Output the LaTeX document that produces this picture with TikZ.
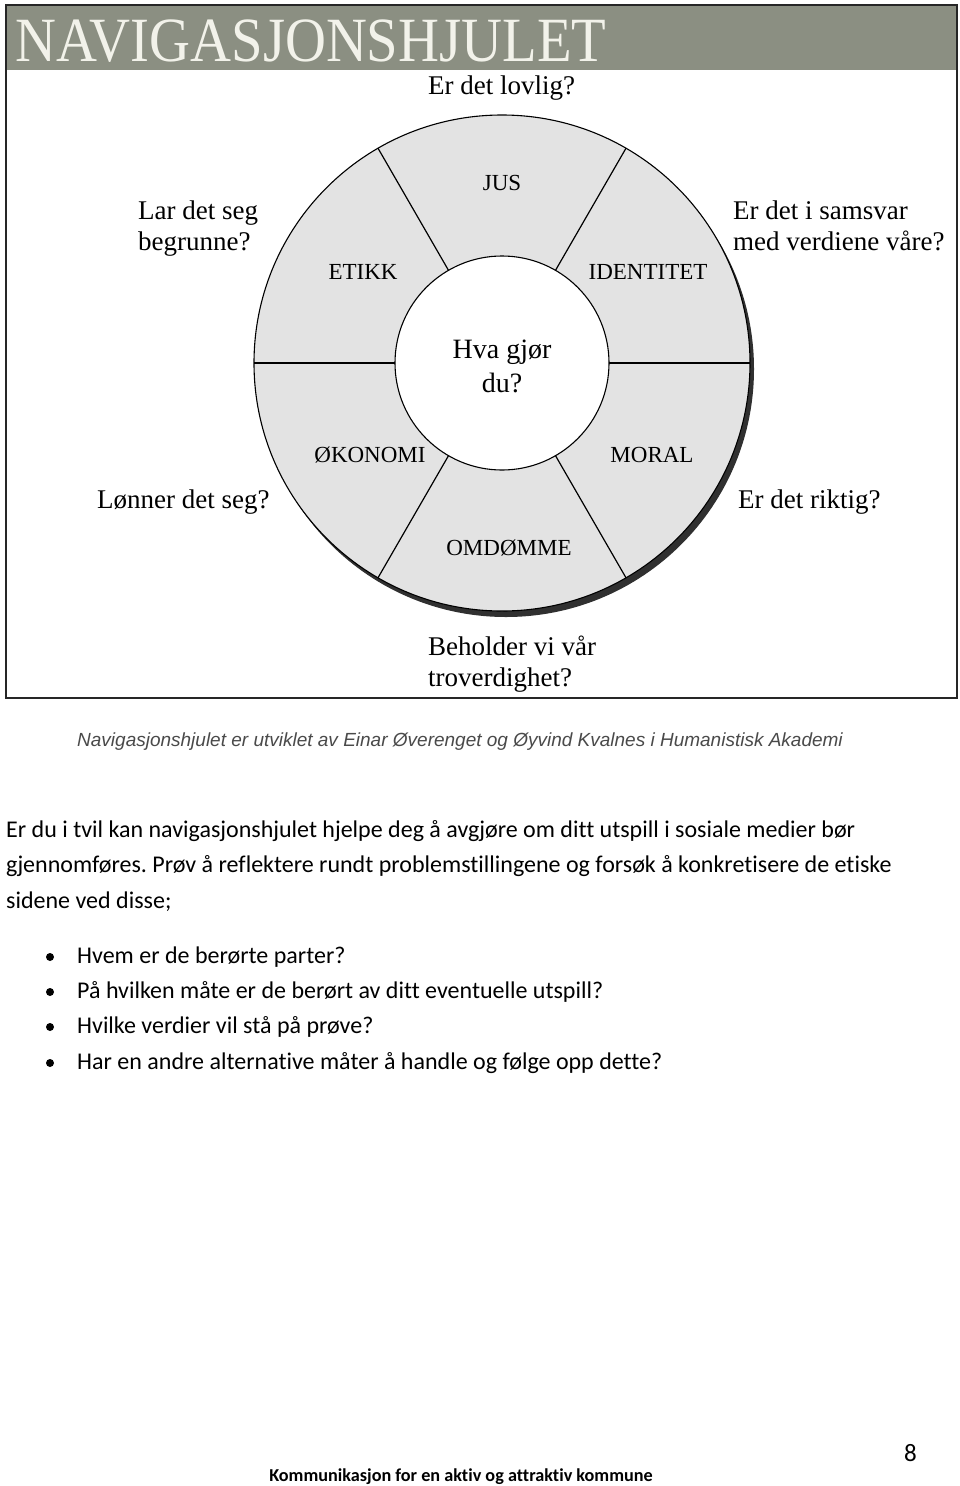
\documentclass[tikz,border=0pt]{standalone}
\usepackage{fontspec}
\setmainfont{Liberation Serif}
\newfontfamily\calib[Ligatures=NoCommon]{Carlito}
\newfontfamily\arialf{Liberation Sans}
\usetikzlibrary{calc}
\definecolor{barc}{HTML}{8B8F82}
\definecolor{titlec}{HTML}{F2F2EA}
\definecolor{wheelc}{HTML}{E3E3E3}
\definecolor{shadc}{HTML}{303030}
\definecolor{capc}{HTML}{4A4A4A}
\frenchspacing
\begin{document}
\begin{tikzpicture}[x=1pt,y=-1pt,
  sectorlabel/.style={font=\fontsize{23}{26}\selectfont, inner sep=0, anchor=center},
  question/.style={font=\fontsize{27}{30.5}\selectfont, align=left, inner sep=0, anchor=base west},
  bodytext/.style={font=\calib\fontsize{24}{35.5}\selectfont, inner sep=0, anchor=base west, align=left},
  bulletdot/.style={circle, fill=black, inner sep=0, minimum size=8pt},
  ring/.style={circle, inner sep=0, outer sep=0, line width=1.1pt},
  spoke/.style={line width=1.2pt}]
\useasboundingbox (0,0) rectangle (960,1486);
\fill[white] (0,0) rectangle (960,1486);
% frame and title bar
\fill[barc] (6,5) rectangle (957,70);
\draw[line width=1.6pt, black!85] (6,5) rectangle (957,698);
\node[anchor=base west, inner sep=0, text=titlec, font=\fontsize{63}{63}\selectfont] (title) at (15,61) {\scalebox{0.9}[1]{NAVIGASJONSHJULET}};
% wheel
\node[ring, minimum size=496pt, fill=shadc] (shadow) at (506,369) {};
\node[ring, minimum size=496pt, draw, fill=wheelc] (wheel) at (502,363) {};
\node[ring, minimum size=214pt, draw, fill=white] (hub) at (502,363) {};
\foreach \a in {0,60,...,300} \draw[spoke] (hub.\a) -- (wheel.\a);
\node[sectorlabel] (jus) at (502,183) {JUS};
\node[sectorlabel] (etikk) at (363,272) {ETIKK};
\node[sectorlabel] (identitet) at (648,272) {IDENTITET};
\node[sectorlabel] (okonomi) at (370,455) {ØKONOMI};
\node[sectorlabel] (moral) at (652,455) {MORAL};
\node[sectorlabel] (omdomme) at (509,548) {OMDØMME};
\node[font=\fontsize{28}{34}\selectfont, align=center, inner sep=0, anchor=base] (center) at (502,392) {Hva gjør\\du?};
% questions
\node[question] (q1) at (428,94) {Er det lovlig?};
\node[question] (q2) at (138,250) {Lar det seg\\begrunne?};
\node[question] (q3) at (733,250) {Er det i samsvar\\med verdiene våre?};
\node[question] (q4) at (97,508) {Lønner det seg?};
\node[question] (q5) at (738,508) {Er det riktig?};
\node[question] (q6) at (428,686) {Beholder vi vår\\troverdighet?};
% caption
\node[anchor=base west, inner sep=0, text=capc, font=\arialf\itshape\fontsize{19}{22}\selectfont] (caption) at (77,746) {Navigasjonshjulet er utviklet av Einar Øverenget og Øyvind Kvalnes i Humanistisk Akademi};
% body
\node[bodytext] (para) at (6,908) {Er du i tvil kan navigasjonshjulet hjelpe deg å avgjøre om ditt utspill i sosiale medier bør\\gjennomføres. Prøv å reflektere rundt problemstillingene og forsøk å konkretisere de etiske\\sidene ved disse;};
\node[bulletdot] (b1) at (50,957) {};
\node[bulletdot] (b2) at (50,992) {};
\node[bulletdot] (b3) at (50,1027) {};
\node[bulletdot] (b4) at (50,1063) {};
\node[bodytext] (t1) at (77,963) {Hvem er de berørte parter?};
\node[bodytext] (t2) at (77,998) {På hvilken måte er de berørt av ditt eventuelle utspill?};
\node[bodytext] (t3) at (77,1033) {Hvilke verdier vil stå på prøve?};
\node[bodytext] (t4) at (77,1069) {Har en andre alternative måter å handle og følge opp dette?};
% footer
\node[anchor=base, inner sep=0, font=\calib\bfseries\fontsize{18.2}{20}\selectfont] (footer) at (461,1481) {Kommunikasjon for en aktiv og attraktiv kommune};
\node[anchor=base west, inner sep=0, font=\calib\fontsize{25}{28}\selectfont] (pagenum) at (904,1461) {8};
\end{tikzpicture}
\end{document}
